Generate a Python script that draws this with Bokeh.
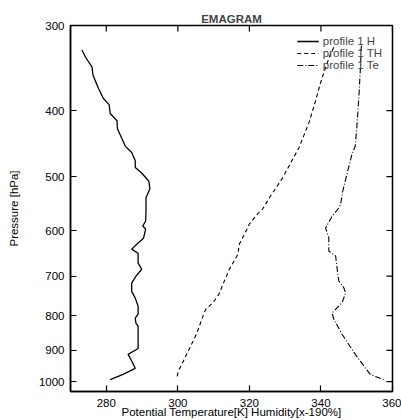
import math
from bokeh.plotting import figure
from bokeh.models import Range1d, FixedTicker, Legend, LegendItem
from bokeh.embed import file_html
from bokeh.resources import INLINE

# ---- data ----
x_ticks = [280, 300, 320, 340, 360]
y_ticks = [300, 400, 500, 600, 700, 800, 900, 1000]

# profile 1 H  (humidity, x-190 %)
h_p = [326, 334, 345, 355, 371, 384, 392, 404, 414, 425, 451, 461, 474, 485, 494,
       508, 521, 537, 562, 581, 591, 597, 616, 628, 639, 648, 670, 684, 700, 717,
       737, 754, 775, 796, 807, 821, 829, 894, 912, 928, 956, 976, 993]
h_x = [273.2, 274.2, 276.0, 276.3, 277.8, 279.2, 280.8, 281.1, 283.0, 283.1, 285.3,
       287.1, 288.1, 288.1, 289.9, 291.9, 292.2, 291.1, 291.1, 291.0, 290.2, 291.0,
       290.4, 288.6, 287.1, 288.9, 288.9, 289.9, 288.3, 287.1, 287.1, 288.1, 288.9,
       288.9, 288.1, 288.3, 288.9, 288.9, 286.1, 286.9, 288.1, 284.7, 281.1]

# profile 1 TH (potential temperature)
th_p = [323, 330, 346, 364, 387, 416, 453, 502, 537, 558, 567, 587, 595, 628, 650,
        684, 724, 744, 766, 783, 802, 852, 893, 934, 966, 983]
th_x = [343.6, 342.7, 341.3, 339.9, 338.5, 336.7, 333.9, 329.3, 325.6, 323.7, 322.3,
        320.0, 319.5, 317.2, 316.8, 314.4, 312.4, 311.5, 309.8, 307.8, 307.0, 305.2,
        303.3, 301.5, 300.1, 299.8]

# profile 1 Te (equivalent potential temperature)
te_p = [321, 349, 382, 418, 451, 463, 495, 525, 549, 556, 572, 595, 615, 643, 654,
        681, 712, 728, 741, 766, 793, 810, 852, 912, 955, 976, 983, 993]
te_x = [351.3, 351.0, 350.6, 350.1, 349.6, 348.7, 347.3, 346.1, 345.5, 345.0, 343.1,
        341.3, 342.2, 342.2, 344.1, 344.5, 345.0, 346.4, 346.9, 345.9, 343.1, 343.6,
        345.9, 349.6, 352.4, 353.8, 355.2, 357.5]

FONT = "Liberation Sans"
FS = "11.5px"

X_MIN, X_MAX = 270, 360
P_BOTTOM, P_TOP = 1034, 300

p = figure(width=401, height=420,
           x_range=Range1d(X_MIN, X_MAX), y_range=Range1d(P_BOTTOM, P_TOP),
           y_axis_type="log", output_backend="svg", toolbar_location=None,
           min_border_left=70, min_border_right=9, min_border_top=25,
           min_border_bottom=29)

p.title.text = "EMAGRAM"
p.title.align = "center"
p.title.text_font = FONT
p.title.text_font_size = FS
p.title.text_font_style = "bold"
p.title.standoff = 1

p.xgrid.visible = False
p.ygrid.visible = False
p.outline_line_color = "black"
p.outline_line_width = 1.5
p.background_fill_color = "white"
p.border_fill_color = "white"


def style_axis(ax, ticks):
    ax.ticker = FixedTicker(ticks=ticks)
    ax.major_tick_in = 6
    ax.major_tick_out = 0
    ax.minor_tick_in = 0
    ax.minor_tick_out = 0
    ax.axis_line_color = "black"
    ax.axis_line_width = 1.5
    ax.major_tick_line_color = "black"
    ax.major_tick_line_width = 1.2
    ax.major_label_text_font = FONT
    ax.major_label_text_color = "black"
    ax.major_label_text_font_size = FS
    ax.axis_label_text_font = FONT
    ax.axis_label_text_font_style = "normal"
    ax.axis_label_text_color = "black"
    ax.axis_label_text_font_size = FS


xa = p.xaxis[0]
style_axis(xa, x_ticks)
xa.major_label_standoff = 7
xa.axis_label = "Potential Temperature[K] Humidity[x-190%]"
xa.axis_label_standoff = -4

ya = p.yaxis[0]
style_axis(ya, y_ticks)
ya.major_label_standoff = 6
ya.axis_label = "Pressure [hPa]"
ya.axis_label_standoff = 16

# mirrored inward tick marks on the top and right frame edges (clipped to the frame)
p.scatter(x=x_ticks, y=[P_TOP] * len(x_ticks), marker="dash", size=12,
          angle=math.pi / 2, line_color="black", line_width=1.2)
p.scatter(x=[X_MAX] * len(y_ticks), y=y_ticks, marker="dash", size=12,
          line_color="black", line_width=1.2)

r_h = p.line(h_x, h_p, line_color="black", line_width=1.3)
r_th = p.line(th_x, th_p, line_color="black", line_width=1.1, line_dash="4 3")
r_te = p.line(te_x, te_p, line_color="black", line_width=1.1, line_dash="6 2 1 2")

legend = Legend(items=[LegendItem(label="profile 1 H", renderers=[r_h]),
                       LegendItem(label="profile 1 TH", renderers=[r_th]),
                       LegendItem(label="profile 1 Te", renderers=[r_te])],
                location="top_right", margin=8, padding=2, spacing=0,
                glyph_width=22, glyph_height=10, label_height=10,
                label_standoff=4,
                label_text_font=FONT, label_text_font_size=FS,
                border_line_alpha=0, background_fill_alpha=0)
p.add_layout(legend)

open("out.html", "w").write(file_html(p, INLINE))
